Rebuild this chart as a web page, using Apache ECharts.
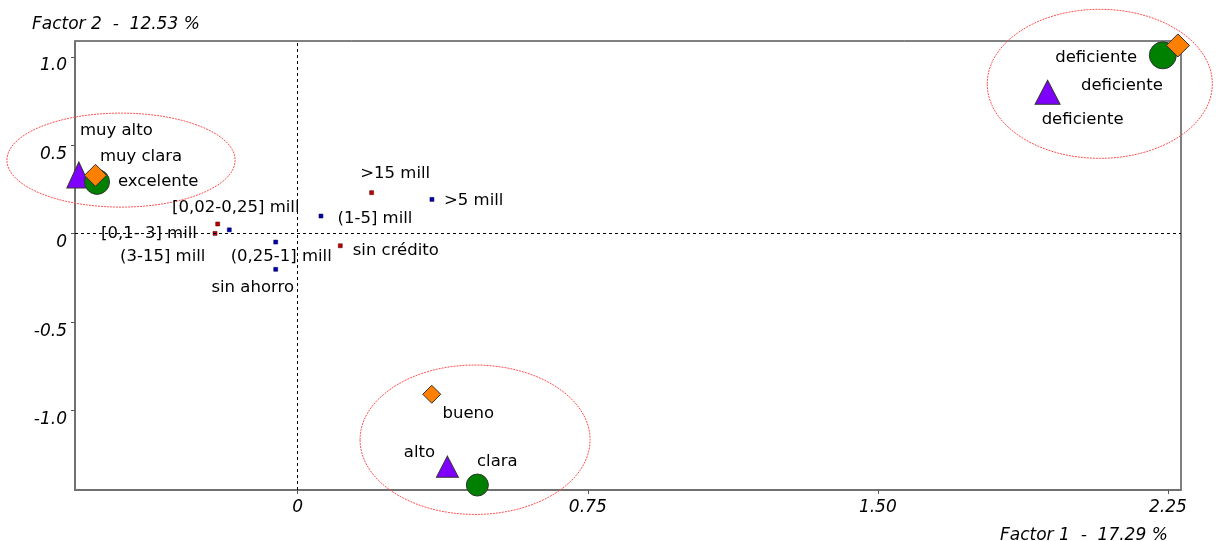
<!DOCTYPE html>
<html>
<head>
<meta charset="utf-8">
<script src="https://cdn.jsdelivr.net/npm/echarts@6/dist/echarts.min.js"></script>
<style>
html,body{margin:0;padding:0;background:#fff;}
#chart{width:1216px;height:541px;}
</style>
</head>
<body>
<div id="chart"></div>
<script>
// ---- Data ----
const xTicks = [0, 0.75, 1.5, 2.25];
const xTickLabels = ['0', '0.75', '1.50', '2.25'];
const yTicks = [-1, -0.5, 0, 0.5, 1];
const yTickLabels = ['-1.0', '-0.5', '0', '0.5', '1.0'];
const xAxisTitle = 'Factor 1  -  17.29 %';
const yAxisTitle = 'Factor 2  -  12.53 %';

// purple triangles
const triNames = ['muy alto', 'deficiente', 'alto'];
const triX = [-0.566, 1.939, 0.387];
const triY = [0.332, 0.799, -1.316];
// green circles
const cirNames = ['muy clara', 'deficiente', 'clara'];
const cirX = [-0.519, 2.237, 0.4645];
const cirY = [0.293, 1.008, -1.420];
// orange diamonds
const diaNames = ['excelente', 'deficiente', 'bueno'];
const diaX = [-0.523, 2.276, 0.3465];
const diaY = [0.330, 1.064, -0.907];
// small blue points
const bluNames = ['sin ahorro', '[0,02-0,25] mill', '(0,25-1] mill', '(1-5] mill', '>5 mill'];
const bluX = [-0.057, -0.177, -0.057, 0.060, 0.347];
const bluY = [-0.201, 0.022, -0.047, 0.100, 0.194];
// small red points
const redNames = ['sin crédito', '[0,1- 3] mill', '(3-15] mill', '>15 mill'];
const redX = [0.110, -0.214, -0.207, 0.191];
const redY = [-0.068, 0.002, 0.055, 0.232];
// ellipses (centre x, centre y, radius x, radius y)
const ellCX = [-0.457, 2.074, 0.4585];
const ellCY = [0.416, 0.847, -1.164];
const ellRX = [0.295, 0.291, 0.2974];
const ellRY = [0.2655, 0.421, 0.422];

// ---- Styling (label offsets in px, symbol sizes) ----
const triOff = [[37.5, -44], [35, 27], [-28, -14]];
const cirOff = [[44, -25], [-66.7, 2], [20, -23]];
const diaOff = [[62.7, 6], [-56, 40], [36.6, 19]];
const bluOff = [[-23, 18.7], [6.5, -22], [5.5, 14.5], [54, 2.5], [41.8, 1]];
const redOff = [[55.5, 4.5], [-66, 0.7], [-55, 32.5], [23.6, -18.7]];
const triSize = [[24, 26], [25, 24], [22, 21]];
const cirSize = [25, 27, 22];
const diaSize = [22, 23, 18];

const FONT = 'DejaVu Sans';
function build(names, xs, ys, offs, sizes) {
  return names.map((n, i) => ({
    name: n,
    value: [xs[i], ys[i]],
    symbolSize: sizes ? sizes[i] : 4,
    label: {
      show: true, position: 'inside', offset: offs[i], formatter: n,
      color: '#000', opacity: 1, fontFamily: FONT, fontSize: 16.5, textBorderWidth: 0,
      align: 'center', verticalAlign: 'middle'
    }
  }));
}
const ellData = ellCX.map((c, i) => [c, ellCY[i], ellRX[i], ellRY[i]]);

const chart = echarts.init(document.getElementById('chart'), null, {renderer: 'canvas'});
const border = {borderColor: '#333', borderWidth: 1, opacity: 1};
chart.setOption({
  animation: false,
  title: [
    {text: yAxisTitle, left: 27, top: 11,
     textStyle: {fontFamily: FONT, fontSize: 17, fontStyle: 'italic', fontWeight: 'normal', color: '#000'}},
    {text: xAxisTitle, left: 995, top: 522,
     textStyle: {fontFamily: FONT, fontSize: 17, fontStyle: 'italic', fontWeight: 'normal', color: '#000'}}
  ],
  grid: {left: 75, top: 41, right: 35, bottom: 51, show: true, borderColor: '#000', borderWidth: 1, backgroundColor: 'transparent'},
  xAxis: {
    type: 'value', min: -0.576, max: 2.284,
    axisLine: {show: true, onZero: false, lineStyle: {color: '#707070', width: 2}},
    axisTick: {show: true, length: 4, lineStyle: {color: '#555'}, customValues: xTicks},
    axisLabel: {customValues: xTicks, formatter: v => xTickLabels[xTicks.indexOf(v)],
      fontFamily: FONT, fontSize: 17, fontStyle: 'italic', color: '#000', margin: 9},
    splitLine: {show: false}
  },
  yAxis: {
    type: 'value', min: -1.448, max: 1.089,
    axisLine: {show: true, onZero: false, lineStyle: {color: '#707070', width: 2}},
    axisTick: {show: true, length: 4, lineStyle: {color: '#555'}, customValues: yTicks},
    axisLabel: {customValues: yTicks, formatter: v => yTickLabels[yTicks.indexOf(v)],
      fontFamily: FONT, fontSize: 17, fontStyle: 'italic', color: '#000', margin: 8,
      verticalAlign: 'top', lineHeight: 18},
    splitLine: {show: false}
  },
  series: [
    {
      type: 'custom', clip: false, silent: true, z: 1,
      data: ellData,
      renderItem: function (params, api) {
        const c = api.coord([api.value(0), api.value(1)]);
        const s = api.size([api.value(2), api.value(3)]);
        return {type: 'ellipse', shape: {cx: c[0], cy: c[1], rx: s[0], ry: s[1]},
          style: {fill: null, stroke: '#ff5050', lineWidth: 1, lineDash: [2, 1]}};
      },
      markLine: {
        silent: true, symbol: 'none', label: {show: false},
        lineStyle: {color: '#000', type: [3, 3], width: 1},
        data: [{xAxis: 0}, {yAxis: 0}]
      }
    },
    {type: 'scatter', clip: false, z: 3, symbol: 'rect',
     itemStyle: {color: '#0000b0', borderColor: '#000040', borderWidth: 0.5, opacity: 1},
     data: build(bluNames, bluX, bluY, bluOff, null)},
    {type: 'scatter', clip: false, z: 3, symbol: 'rect',
     itemStyle: {color: '#c00000', borderColor: '#400000', borderWidth: 0.5, opacity: 1},
     data: build(redNames, redX, redY, redOff, null)},
    {type: 'scatter', clip: false, z: 4, symbol: 'triangle',
     itemStyle: Object.assign({color: '#8000ff'}, border),
     data: build(triNames, triX, triY, triOff, triSize)},
    {type: 'scatter', clip: false, z: 5, symbol: 'circle',
     itemStyle: Object.assign({color: '#008000'}, border),
     data: build(cirNames, cirX, cirY, cirOff, cirSize)},
    {type: 'scatter', clip: false, z: 6, symbol: 'diamond',
     itemStyle: Object.assign({color: '#ff8000'}, border),
     data: build(diaNames, diaX, diaY, diaOff, diaSize)}
  ]
});
</script>
</body>
</html>
